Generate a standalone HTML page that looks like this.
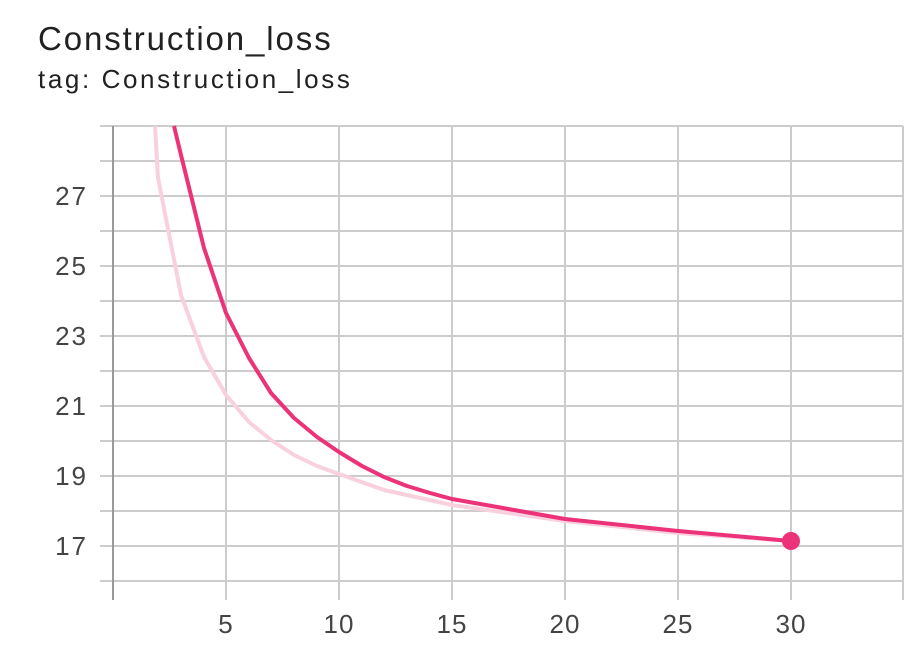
<!DOCTYPE html>
<html><head><meta charset="utf-8"><style>
body{margin:0;background:#fff;width:918px;height:648px;overflow:hidden;font-family:"Liberation Sans",sans-serif}
.t1{position:absolute;left:38px;top:20px;font-size:33px;letter-spacing:1.9px;color:#212121}
.t2{position:absolute;left:38px;top:64px;font-size:26px;letter-spacing:2.6px;color:#212121}
svg{position:absolute;left:0;top:0}
</style></head><body>
<div class="t1">Construction_loss</div>
<div class="t2">tag: Construction_loss</div>
<svg width="918" height="648" font-family="Liberation Sans, sans-serif">
<g stroke="#ccc" stroke-width="2">
<line x1="100" x2="903" y1="126" y2="126"/>
<line x1="100" x2="903" y1="161" y2="161"/>
<line x1="100" x2="903" y1="196" y2="196"/>
<line x1="100" x2="903" y1="231" y2="231"/>
<line x1="100" x2="903" y1="266" y2="266"/>
<line x1="100" x2="903" y1="301" y2="301"/>
<line x1="100" x2="903" y1="336" y2="336"/>
<line x1="100" x2="903" y1="371" y2="371"/>
<line x1="100" x2="903" y1="406" y2="406"/>
<line x1="100" x2="903" y1="441" y2="441"/>
<line x1="100" x2="903" y1="476" y2="476"/>
<line x1="100" x2="903" y1="511" y2="511"/>
<line x1="100" x2="903" y1="546" y2="546"/>
<line x1="100" x2="903" y1="581" y2="581"/>
<line x1="226" x2="226" y1="126" y2="600"/>
<line x1="339" x2="339" y1="126" y2="600"/>
<line x1="452" x2="452" y1="126" y2="600"/>
<line x1="565" x2="565" y1="126" y2="600"/>
<line x1="678" x2="678" y1="126" y2="600"/>
<line x1="791" x2="791" y1="126" y2="600"/>
<line x1="903" x2="903" y1="126" y2="600"/>
</g>
<line x1="113" x2="113" y1="126" y2="600" stroke="#999" stroke-width="2"/>
<g font-size="26" fill="#444" text-anchor="end" letter-spacing="2">
<text x="88" y="205">27</text><text x="88" y="275">25</text><text x="88" y="345">23</text>
<text x="88" y="415">21</text><text x="88" y="485">19</text><text x="88" y="555">17</text>
</g>
<g font-size="26" fill="#444" text-anchor="middle" letter-spacing="1">
<text x="226" y="633">5</text><text x="339" y="633">10</text><text x="452" y="633">15</text>
<text x="565" y="633">20</text><text x="678" y="633">25</text><text x="791" y="633">30</text>
</g>
<polyline fill="none" stroke="#f8d0de" stroke-width="4" stroke-linejoin="round" points="155,126 158,178 181,295 204,357 226,395 249,422 271,440 294,455 317,466 339,474 384,490 452,505 565,521 678,533 791,541"/>
<polyline fill="none" stroke="#ec3278" stroke-width="4" stroke-linejoin="round" points="174,126 181,155 204,248 226,313 249,358 271,393 294,418 317,437 339,452 362,466 384,477 407,486 430,493 452,499 565,519 678,531 791,541"/>
<circle cx="791" cy="541" r="9" fill="#ec3278"/>
</svg>
</body></html>
